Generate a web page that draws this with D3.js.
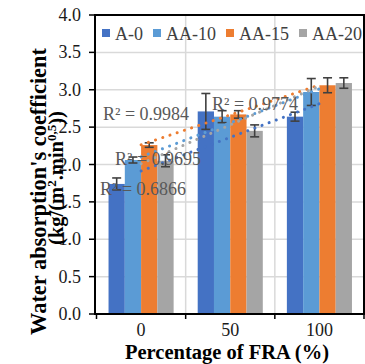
<!DOCTYPE html>
<html>
<head>
<meta charset="utf-8">
<script src="https://cdn.jsdelivr.net/npm/d3@7"></script>
<style>
  body { margin: 0; background: #fff; }
  svg text { font-family: "Liberation Serif", "Times New Roman", serif; }
</style>
</head>
<body>
<div id="chart"></div>
<script>
const categories = ["0", "50", "100"];
const seriesNames = ["A-0", "AA-10", "AA-15", "AA-20"];
const valuesA0 = [1.74, 2.71, 2.64];
const valuesAA10 = [2.06, 2.64, 2.97];
const valuesAA15 = [2.26, 2.67, 3.06];
const valuesAA20 = [2.05, 2.45, 3.09];
const errorsA0 = [0.08, 0.24, 0.06];
const errorsAA10 = [0.04, 0.08, 0.18];
const errorsAA15 = [0.03, 0.05, 0.10];
const errorsAA20 = [0.08, 0.08, 0.07];
const r2Labels = ["R² = 0.6866", "R² = 0.9774", "R² = 0.9984", "R² = 0.9695"];
const yTicks = [0, 0.5, 1, 1.5, 2, 2.5, 3, 3.5, 4];

const values = [valuesA0, valuesAA10, valuesAA15, valuesAA20];
const errors = [errorsA0, errorsAA10, errorsAA15, errorsAA20];
const colors = ["#4472C4", "#5B9BD5", "#ED7D31", "#A5A5A5"];

const width = 365, height = 364;
const pLeft = 95, pRight = 364, pTop = 15, pBottom = 314;

const svg = d3.select("#chart").append("svg")
  .attr("width", width).attr("height", height);

const y = d3.scaleLinear().domain([0, 4]).range([pBottom, pTop]);
const x0 = d3.scaleBand().domain(categories).range([pLeft + 1.5, pRight]);
const bw = x0.bandwidth();
const x1 = d3.scaleBand().domain(seriesNames)
  .range([bw * 0.135, bw * 0.865]);

// grid
svg.append("g").selectAll("line").data(yTicks).enter().append("line")
  .attr("x1", pLeft).attr("x2", pRight)
  .attr("y1", d => y(d)).attr("y2", d => y(d))
  .attr("stroke", "#d9d9d9").attr("stroke-width", 1.5);
svg.append("g").selectAll("line").data(categories.slice(1)).enter().append("line")
  .attr("x1", d => x0(d)).attr("x2", d => x0(d))
  .attr("y1", pTop).attr("y2", pBottom)
  .attr("stroke", "#d9d9d9").attr("stroke-width", 1.5);

// bars
seriesNames.forEach((s, si) => {
  svg.append("g").selectAll("rect").data(values[si]).enter().append("rect")
    .attr("x", (d, i) => x0(categories[i]) + x1(s))
    .attr("width", x1.bandwidth())
    .attr("y", d => y(d))
    .attr("height", d => y(0) - y(d))
    .attr("fill", colors[si]);
});

// error bars
seriesNames.forEach((s, si) => {
  const g = svg.append("g").attr("stroke", "#404040").attr("stroke-width", 1.6);
  values[si].forEach((v, i) => {
    const cx = x0(categories[i]) + x1(s) + x1.bandwidth() / 2;
    const e = errors[si][i];
    g.append("line").attr("x1", cx).attr("x2", cx).attr("y1", y(v - e)).attr("y2", y(v + e));
    g.append("line").attr("x1", cx - 4.5).attr("x2", cx + 4.5).attr("y1", y(v - e)).attr("y2", y(v - e));
    g.append("line").attr("x1", cx - 4.5).attr("x2", cx + 4.5).attr("y1", y(v + e)).attr("y2", y(v + e));
  });
});

// linear trendlines across category centres
seriesNames.forEach((s, si) => {
  const vals = values[si];
  const xs = vals.map((d, i) => i + 1);
  const mx = d3.mean(xs), my = d3.mean(vals);
  const slope = d3.sum(xs, (xv, i) => (xv - mx) * (vals[i] - my)) / d3.sum(xs, xv => (xv - mx) ** 2);
  const icpt = my - slope * mx;
  const cx = c => x0(c) + bw / 2;
  svg.append("line")
    .attr("x1", cx(categories[0])).attr("y1", y(icpt + slope * 1))
    .attr("x2", cx(categories[categories.length - 1])).attr("y2", y(icpt + slope * categories.length))
    .attr("stroke", colors[si]).attr("stroke-width", 3)
    .attr("stroke-linecap", "round").attr("stroke-dasharray", "0.1 7.5");
});

// R² labels
const r2Pos = [[100, 195], [212, 110], [103, 120], [115, 165]];
svg.append("g").selectAll("text").data(r2Labels).enter().append("text")
  .attr("x", (d, i) => r2Pos[i][0]).attr("y", (d, i) => r2Pos[i][1])
  .attr("fill", "#595959").style("font-size", "18px")
  .text(d => d);

// frame and axes
svg.append("rect").attr("x", pLeft).attr("y", pTop)
  .attr("width", pRight - pLeft).attr("height", pBottom - pTop)
  .attr("fill", "none").attr("stroke", "#000").attr("stroke-width", 2);

const yAxis = svg.append("g");
yAxis.selectAll("line").data(yTicks).enter().append("line")
  .attr("x1", pLeft - 6).attr("x2", pLeft)
  .attr("y1", d => y(d)).attr("y2", d => y(d))
  .attr("stroke", "#000").attr("stroke-width", 1.5);
yAxis.selectAll("text").data(yTicks).enter().append("text")
  .attr("x", 81).attr("y", d => y(d) + 6)
  .attr("text-anchor", "end").style("font-size", "18px").attr("fill", "#1a1a1a")
  .text(d => d3.format(".1f")(d));

const xTickPos = categories.map(c => x0(c)).concat([pRight]);
svg.append("g").selectAll("line").data(xTickPos).enter().append("line")
  .attr("x1", d => d).attr("x2", d => d)
  .attr("y1", pBottom).attr("y2", pBottom + 5)
  .attr("stroke", "#000").attr("stroke-width", 1.5);
svg.append("g").selectAll("text").data(categories).enter().append("text")
  .attr("x", d => x0(d) + bw / 2).attr("y", 336)
  .attr("text-anchor", "middle").style("font-size", "18px").attr("fill", "#1a1a1a")
  .text(d => d);

svg.append("text")
  .attr("x", 227).attr("y", 358.5)
  .attr("text-anchor", "middle")
  .style("font-size", "20.5px").style("font-weight", "bold")
  .text("Percentage of FRA (%)");

// y title
const yt = svg.append("g").attr("transform", "rotate(-90)");
yt.append("text")
  .attr("x", -191.5).attr("y", 46)
  .attr("text-anchor", "middle")
  .style("font-size", "22.4px").style("font-weight", "bold")
  .text("Water absorption's coefficient");
const yt2 = yt.append("text")
  .attr("x", -178).attr("y", 63)
  .attr("text-anchor", "middle")
  .style("font-size", "20.5px").style("font-weight", "bold");
yt2.append("tspan").text("(kg/(m");
yt2.append("tspan").attr("dy", -7).style("font-size", "13px").text("2");
yt2.append("tspan").attr("dy", 7).text(".min");
yt2.append("tspan").attr("dy", -7).style("font-size", "13px").text("0,5");
yt2.append("tspan").attr("dy", 7).text("))");

// legend
const leg = svg.append("g");
let lx = 102;
seriesNames.forEach((s, si) => {
  leg.append("rect").attr("x", lx).attr("y", 29).attr("width", 8).attr("height", 8)
    .attr("fill", colors[si]);
  const t = leg.append("text").attr("x", lx + 13).attr("y", 39.5)
    .style("font-size", "18px").attr("fill", "#404040").text(s);
  lx += 13 + t.node().getComputedTextLength() + 10;
});
// right frame edge drawn over legend
svg.append("line").attr("x1", pRight).attr("x2", pRight).attr("y1", pTop).attr("y2", pBottom)
  .attr("stroke", "#000").attr("stroke-width", 2);
</script>
</body>
</html>
